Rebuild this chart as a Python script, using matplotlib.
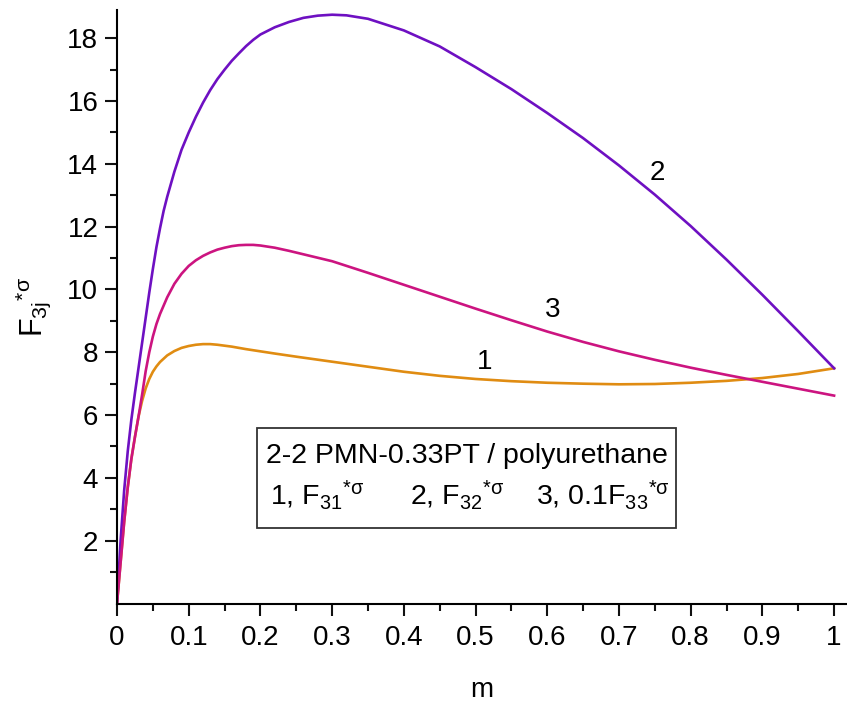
import matplotlib
matplotlib.use("Agg")
import matplotlib.pyplot as plt
from matplotlib.patches import Rectangle

plt.rcParams['font.family'] = ['Liberation Sans', 'DejaVu Sans']
plt.rcParams['mathtext.fontset'] = 'custom'
plt.rcParams['mathtext.rm'] = 'Liberation Sans'
plt.rcParams['mathtext.it'] = 'Liberation Sans:italic'
plt.rcParams['mathtext.sf'] = 'Liberation Sans'

# volume fraction m and the three curves
m1 = [0, 0.005, 0.01, 0.015, 0.02, 0.025, 0.03, 0.035, 0.04, 0.045, 0.05, 0.055, 0.06, 0.07,
      0.08, 0.09, 0.10, 0.11, 0.12, 0.13, 0.14, 0.16, 0.18, 0.20, 0.22, 0.25, 0.30, 0.35,
      0.40, 0.45, 0.50, 0.55, 0.60, 0.65, 0.70, 0.75, 0.80, 0.85, 0.90, 0.95, 1.00]
f31 = [0, 1.3, 2.6, 3.7, 4.6, 5.3, 5.95, 6.45, 6.85, 7.15, 7.38, 7.55, 7.69, 7.9,
       8.04, 8.14, 8.2, 8.24, 8.26, 8.26, 8.24, 8.18, 8.1, 8.03, 7.96, 7.86, 7.7, 7.54,
       7.38, 7.25, 7.15, 7.08, 7.03, 7.0, 6.98, 6.99, 7.03, 7.09, 7.18, 7.31, 7.49]

m2 = [0, 0.005, 0.01, 0.015, 0.02, 0.025, 0.03, 0.035, 0.04, 0.045, 0.05, 0.055, 0.06, 0.065,
      0.07, 0.08, 0.09, 0.10, 0.11, 0.12, 0.13, 0.14, 0.15, 0.16, 0.17, 0.18, 0.19, 0.20,
      0.22, 0.24, 0.26, 0.28, 0.30, 0.32, 0.35, 0.40, 0.45, 0.50, 0.55, 0.60, 0.65, 0.70,
      0.75, 0.80, 0.85, 0.90, 0.95, 1.00]
f32 = [0, 2.0, 3.6, 4.85, 5.85, 6.7, 7.5, 8.3, 9.1, 9.9, 10.65, 11.35, 11.95, 12.5,
       12.95, 13.75, 14.45, 15.0, 15.5, 15.95, 16.35, 16.7, 17.0, 17.28, 17.52, 17.75, 17.95, 18.12,
       18.35, 18.52, 18.65, 18.72, 18.75, 18.73, 18.62, 18.25, 17.74, 17.08, 16.38, 15.62, 14.82, 13.95,
       13.02, 12.02, 10.95, 9.83, 8.67, 7.49]

m3 = [0, 0.005, 0.01, 0.015, 0.02, 0.025, 0.03, 0.035, 0.04, 0.045, 0.05, 0.055, 0.06, 0.07,
      0.08, 0.09, 0.10, 0.11, 0.12, 0.13, 0.14, 0.15, 0.16, 0.17, 0.18, 0.19, 0.20, 0.22,
      0.24, 0.26, 0.28, 0.30, 0.35, 0.40, 0.45, 0.50, 0.55, 0.60, 0.65, 0.70, 0.75, 0.80,
      0.85, 0.90, 0.95, 1.00]
f33 = [0, 1.3, 2.6, 3.7, 4.6, 5.3, 5.95, 6.65, 7.4, 8.0, 8.5, 8.9, 9.22, 9.75,
       10.18, 10.5, 10.75, 10.93, 11.07, 11.18, 11.27, 11.33, 11.38, 11.41, 11.42, 11.42, 11.40, 11.33,
       11.23, 11.12, 11.01, 10.9, 10.53, 10.15, 9.77, 9.39, 9.02, 8.66, 8.33, 8.03, 7.76, 7.51,
       7.28, 7.06, 6.84, 6.62]

x_ticks = [0, 0.1, 0.2, 0.3, 0.4, 0.5, 0.6, 0.7, 0.8, 0.9, 1.0]
x_labels = ['0', '0.1', '0.2', '0.3', '0.4', '0.5', '0.6', '0.7', '0.8', '0.9', '1']
y_ticks = [2, 4, 6, 8, 10, 12, 14, 16, 18]

fig = plt.figure(figsize=(8.47, 7.09), dpi=100)
ax = fig.add_axes([117 / 847, 1 - 603.5 / 709, 730 / 847, 593.5 / 709])

ax.plot(m1, f31, color='#E08C12', lw=1.9)
ax.plot(m2, f32, color='#6E10C2', lw=1.9)
ax.plot(m3, f33, color='#CC1480', lw=1.9)

ax.set_xlim(0, 1.018)
ax.set_ylim(0, 18.9)
ax.set_xticks(x_ticks)
ax.set_xticklabels(x_labels)
ax.set_xticks([0.05 + 0.1 * i for i in range(10)], minor=True)
ax.set_yticks(y_ticks)
ax.set_yticks([1 + 2 * i for i in range(9)], minor=True)

for s in ['top', 'right']:
    ax.spines[s].set_visible(False)
for s in ['left', 'bottom']:
    ax.spines[s].set_linewidth(1.5)
ax.tick_params(which='major', length=8.5, width=1.5, labelsize=20, color='#111111')
ax.tick_params(axis='x', which='major', pad=7)
ax.tick_params(axis='y', which='major', pad=5)
ax.tick_params(which='minor', length=5, width=1.5, color='#111111')

ax.set_xlabel('m', fontsize=20, labelpad=19)
ax.set_ylabel(r'$\mathrm{F}_{\mathrm{3j}}{}^{\mathrm{*σ}}$', fontsize=22, labelpad=10)

# curve numbers
ax.text(0.753, 13.7, '2', fontsize=20, ha='center', va='center')
ax.text(0.608, 9.35, '3', fontsize=20, ha='center', va='center')
ax.text(0.512, 7.7, '1', fontsize=20, ha='center', va='center')

# caption box
ax.add_patch(Rectangle((0.195, 2.40), 0.585, 3.19, fill=False, edgecolor='#333333', lw=1.3))
ax.text(0.4875, 4.70, '2-2 PMN-0.33PT / polyurethane', fontsize=20.5, ha='center', va='center')
ax.text(0.213, 3.45, r'1, F$_{31}{}^{\mathrm{*σ}}$', fontsize=20.5, ha='left', va='center')
ax.text(0.408, 3.45, r'2, F$_{32}{}^{\mathrm{*σ}}$', fontsize=20.5, ha='left', va='center')
ax.text(0.585, 3.45, r'3, 0.1F$_{33}{}^{\mathrm{*σ}}$', fontsize=20.5, ha='left', va='center')

fig.savefig('out.png', dpi=100)
